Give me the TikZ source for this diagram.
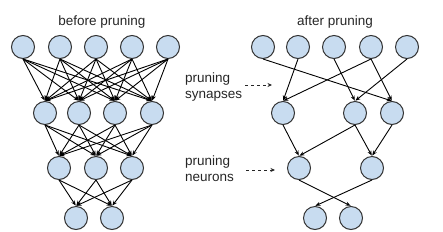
\documentclass[tikz,border=0pt]{standalone}
\usepackage{fontspec}
\setmainfont{Liberation Sans}
\usetikzlibrary{arrows.meta}
\begin{document}
\begin{tikzpicture}[x=1pt,y=-1pt,
  neuron/.style={circle,draw=black!80,line width=1pt,fill={rgb,255:red,200;green,220;blue,240},minimum size=23pt,inner sep=0pt},
  syn/.style={-{Stealth[length=5pt,width=4pt]},line width=0.9pt,black,shorten >=0.5pt},
  lbl/.style={font=\fontsize{13.5}{16}\selectfont,inner sep=0pt,text=black!85},
  dasharrow/.style={-{Stealth[length=4.5pt,width=4pt]},dashed,line width=0.9pt,black!85}]
\useasboundingbox (0,0) rectangle (443,231);
% left network
\foreach \i/\x in {1/23,2/60,3/96,4/132,5/168} \node[neuron] (la\i) at (\x,47) {};
\foreach \i/\x in {1/45,2/79,3/115,4/152} \node[neuron] (lb\i) at (\x,113) {};
\foreach \i/\x in {1/59,2/96,3/132} \node[neuron] (lc\i) at (\x,168) {};
\foreach \i/\x in {1/76,2/112} \node[neuron] (ld\i) at (\x,218) {};
\foreach \a in {1,...,5} \foreach \b in {1,...,4} \draw[syn] (la\a.south) -- (lb\b.north);
\foreach \a in {1,...,4} \foreach \b in {1,...,3} \draw[syn] (lb\a.south) -- (lc\b.north);
\foreach \a in {1,...,3} \foreach \b in {1,2} \draw[syn] (lc\a.south) -- (ld\b.north);
\node[lbl] (t1) at (102,22) {before pruning};
% right network
\foreach \i/\x in {1/263,2/298,3/334,4/371,5/407} \node[neuron] (ra\i) at (\x,47) {};
\foreach \i/\x in {1/283,2/355,3/392} \node[neuron] (rb\i) at (\x,113) {};
\foreach \i/\x in {1/299,2/372} \node[neuron] (rc\i) at (\x,168) {};
\foreach \i/\x in {1/315,2/351} \node[neuron] (rd\i) at (\x,218) {};
\draw[syn] (ra1.south) -- (rb3.north);
\draw[syn] (ra2.south) -- (rb1.north);
\draw[syn] (ra3.south) -- (rb2.north);
\draw[syn] (ra4.south) -- (rb1.north);
\draw[syn] (ra4.south) -- (rb3.north);
\draw[syn] (ra5.south) -- (rb2.north);
\draw[syn] (rb1.south) -- (rc1.north);
\draw[syn] (rb2.south) -- (rc1.north);
\draw[syn] (rb2.south) -- (rc2.north);
\draw[syn] (rb3.south) -- (rc2.north);
\draw[syn] (rc1.south) -- (rd2.north);
\draw[syn] (rc2.south) -- (rd1.north);
\node[lbl] (t2) at (335,22) {after pruning};
% labels
\node[lbl,anchor=west,align=left] (ps) at (185,87) {pruning\\synapses};
\node[lbl,anchor=west,align=left] (pn) at (185,169) {pruning\\neurons};
\coordinate (ps1) at (245,85);
\coordinate (ps2) at (272,85);
\coordinate (pn1) at (246,170);
\coordinate (pn2) at (275,170);
\draw[dasharrow] (ps1) -- (ps2);
\draw[dasharrow] (pn1) -- (pn2);
\end{tikzpicture}
\end{document}
